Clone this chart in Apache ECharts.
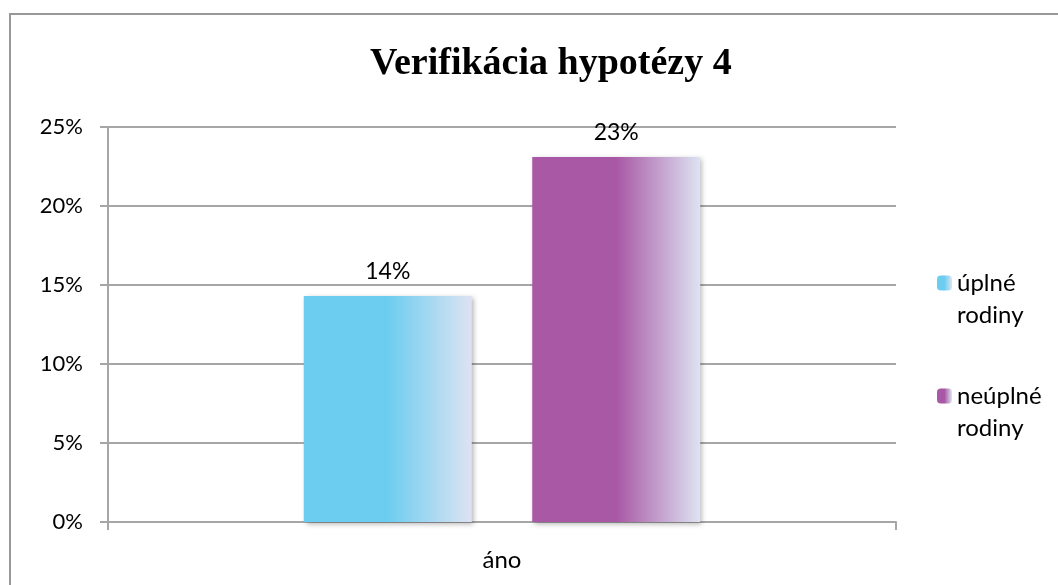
<!DOCTYPE html>
<html>
<head>
<meta charset="utf-8">
<script src="https://cdn.jsdelivr.net/npm/echarts@6/dist/echarts.min.js"></script>
<style>
  html, body { margin: 0; padding: 0; background: #fff; }
  #chart { width: 1058px; height: 585px; }
</style>
</head>
<body>
<div id="chart"></div>
<script>
// data
const categories = ['áno'];
const seriesNames = ['úplné rodiny', 'neúplné rodiny'];
const uplneValues = [14.3];
const neuplneValues = [23.1];
const yTicks = [0, 5, 10, 15, 20, 25];

const chart = echarts.init(document.getElementById('chart'));

const fade = (c) => new echarts.graphic.LinearGradient(0, 0, 1, 0, [
  { offset: 0, color: c },
  { offset: 0.5, color: c },
  { offset: 1, color: '#dde3f2' }
]);

const barLabel = {
  show: true,
  position: 'top',
  distance: 13,
  fontFamily: 'Lato',
  fontSize: 23,
  color: '#000',
  formatter: (p) => Math.round(p.value) + '%'
};

const barShadow = {
  shadowBlur: 5,
  shadowOffsetX: 2,
  shadowOffsetY: 2,
  shadowColor: 'rgba(0,0,0,0.3)'
};

const option = {
  animation: false,
  title: {
    text: 'Verifikácia hypotézy 4',
    left: 365,
    top: 40,
    textStyle: {
      fontFamily: 'Liberation Serif',
      fontWeight: 'bold',
      fontSize: 38,
      color: '#000'
    }
  },
  graphic: [{
    type: 'rect',
    shape: { x: 10, y: 14, width: 1100, height: 600 },
    style: { fill: null, stroke: '#999', lineWidth: 2 },
    silent: true
  }],
  legend: {
    orient: 'vertical',
    left: 932,
    top: 230,
    itemWidth: 15,
    itemHeight: 15,
    itemGap: 17,
    // empty first line keeps the icon level with the first text line
    formatter: (name) => '\n' + name.replace(' ', '\n'),
    textStyle: {
      fontFamily: 'Lato',
      fontSize: 24,
      lineHeight: 32,
      color: '#000'
    }
  },
  grid: { left: 108, right: 162, top: 127, bottom: 63 },
  xAxis: {
    type: 'category',
    data: categories,
    axisLine: { lineStyle: { color: '#a6a6a6', width: 2 } },
    axisTick: { show: true, length: 8, lineStyle: { color: '#a6a6a6', width: 2 } },
    axisLabel: { fontFamily: 'Lato', fontSize: 24, color: '#000', margin: 26 }
  },
  yAxis: {
    type: 'value',
    min: yTicks[0],
    max: yTicks[yTicks.length - 1],
    interval: 5,
    axisLine: { show: true, lineStyle: { color: '#a6a6a6', width: 2 } },
    axisTick: { show: true, length: 8, lineStyle: { color: '#a6a6a6', width: 2 } },
    splitLine: { lineStyle: { color: '#a6a6a6', width: 2 } },
    axisLabel: {
      fontFamily: 'Lato',
      fontSize: 22,
      color: '#000',
      margin: 25,
      formatter: '{value}%'
    }
  },
  series: [
    {
      name: seriesNames[0],
      type: 'bar',
      data: uplneValues,
      barWidth: 168,
      barGap: '36%',
      itemStyle: Object.assign({ color: fade('#6dcdf0') }, barShadow),
      label: barLabel
    },
    {
      name: seriesNames[1],
      type: 'bar',
      data: neuplneValues,
      barWidth: 168,
      barGap: '36%',
      itemStyle: Object.assign({ color: fade('#a858a5') }, barShadow),
      label: barLabel
    }
  ]
};

chart.setOption(option);
</script>
</body>
</html>
